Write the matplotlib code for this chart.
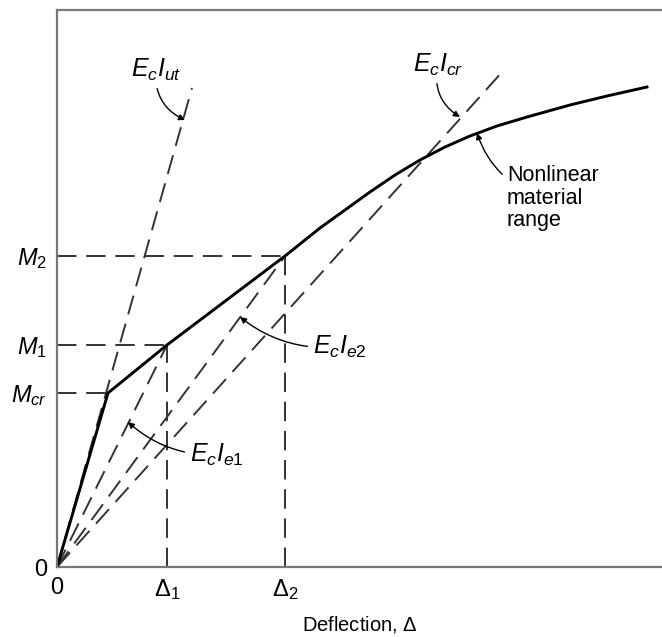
import matplotlib
matplotlib.use("Agg")
import matplotlib.pyplot as plt

plt.rcParams['font.family'] = ['Liberation Sans', 'DejaVu Sans']
plt.rcParams['mathtext.fontset'] = 'custom'
plt.rcParams['mathtext.rm'] = 'Liberation Sans'
plt.rcParams['mathtext.it'] = 'Liberation Sans:italic'

# moment-deflection curve
curve_x = [0, 51, 110, 228, 263, 288, 313, 338, 363, 388, 413, 440, 470, 513, 550, 590]
curve_y = [0, 174, 222, 311, 339, 357, 375, 392, 407, 420, 431, 441, 450, 462, 471, 480]

# key points
m_cr, m_1, m_2 = 174, 222, 311
d_cr, d_1, d_2 = 51, 110, 228

# ends of the secant / tangent lines from the origin
ut_end = (135, 479)
e1_end = (d_1, m_1)
e2_end = (d_2, m_2)
cr_end = (446, 496)

fig = plt.figure(figsize=(6.62, 6.37), dpi=100)
ax = fig.add_axes([57 / 662, 70 / 637, 1 - 57 / 662, 557 / 637])
ax.set_xlim(0, 605)
ax.set_ylim(0, 557)

dash = dict(color='#333333', lw=1.4, linestyle=(0, (10, 5)))

# dashed guide lines
for end in [ut_end, e1_end, e2_end, cr_end]:
    ax.plot([0, end[0]], [0, end[1]], **dash)
ax.plot([0, d_cr], [m_cr, m_cr], **dash)
ax.plot([0, d_1], [m_1, m_1], **dash)
ax.plot([0, d_2], [m_2, m_2], **dash)
ax.plot([d_1, d_1], [0, m_1], **dash)
ax.plot([d_2, d_2], [0, m_2], **dash)

# main curve
ax.plot(curve_x, curve_y, color='black', lw=2.1, solid_joinstyle='round')

# frame
for s in ['left', 'bottom', 'top']:
    ax.spines[s].set_color('#777777')
    ax.spines[s].set_linewidth(1.6)
ax.spines['right'].set_visible(False)

ax.set_xticks([0, d_1, d_2])
ax.set_xticklabels(['0', r'$\Delta_1$', r'$\Delta_2$'], fontsize=17)
ax.set_yticks([0, m_cr, m_1, m_2])
ax.set_yticklabels(['0', r'$M_{cr}$', r'$M_1$', r'$M_2$'], fontsize=17)
ax.tick_params(length=0, pad=7)
ax.set_xlabel(r'Deflection, $\Delta$', fontsize=14.5)
ax.xaxis.set_label_coords(0.5, -0.085)

arrow = dict(arrowstyle='-|>', color='black', lw=1.0, mutation_scale=9,
             shrinkA=2, shrinkB=0)

ax.annotate(r'$E_cI_{ut}$', xy=(128, 447), xytext=(99, 497), fontsize=18,
            ha='center', va='center',
            arrowprops=dict(connectionstyle='arc3,rad=0.35', **arrow))
ax.annotate(r'$E_cI_{cr}$', xy=(403, 450), xytext=(381, 502), fontsize=18,
            ha='center', va='center',
            arrowprops=dict(connectionstyle='arc3,rad=0.35', **arrow))
ax.annotate('Nonlinear\nmaterial\nrange', xy=(420, 434), xytext=(450, 402),
            fontsize=15.5, ha='left', va='top', linespacing=1.1,
            arrowprops=dict(connectionstyle='arc3,rad=-0.3', **arrow))
ax.annotate(r'$E_cI_{e2}$', xy=(183, 250), xytext=(256, 220), fontsize=18,
            ha='left', va='center',
            arrowprops=dict(connectionstyle='arc3,rad=-0.2', **arrow))
ax.annotate(r'$E_cI_{e1}$', xy=(71, 145), xytext=(133, 112), fontsize=18,
            ha='left', va='center',
            arrowprops=dict(connectionstyle='arc3,rad=-0.2', **arrow))

fig.savefig('out.png', dpi=100)
